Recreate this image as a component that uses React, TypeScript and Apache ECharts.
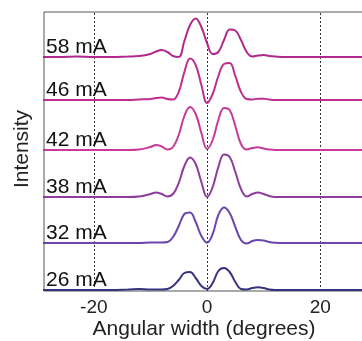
import React, { useEffect, useRef } from "react";
import * as echarts from "echarts";

const xs = [-29, -26, -23, -20, -17, -14, -12, -10, -9, -8, -7, -6, -5, -4, -3, -2, -1, 0, 1, 2, 3, 4, 5, 6, 7, 8, 9, 10, 11, 12, 14, 17, 20, 23, 26, 30];

const names = ["58 mA", "46 mA", "42 mA", "38 mA", "32 mA", "26 mA"];
const offsets = [234, 191, 141, 94, 48, 1];
const colors = ["#b0288c", "#bd2f91", "#c73a98", "#8e3c9e", "#6a45ad", "#36347c"];

const v58 = [0, 0, 0.5, 0, 0, 0.5, 1, 3, 5.5, 7, 5, 1, 0, 16, 32, 38.5, 30, 14, 3, 5, 17, 27.5, 26.5, 17, 5, 0.5, 1.5, 2, 1, 0.5, 0, 0, 0, 0, 0, 0];
const v46 = [0, 0, 0, 0, 0, 0, 0.5, 1, 2, 2.5, 1, 0.5, 8, 28, 41.5, 35, 15, -3, 6, 24, 36, 37, 24, 8, 1, 0.5, 1.3, 1.3, 0.5, 0, 0, 0, 0, 0, 0, 0];
const v42 = [0, 0, 0, 0, 0, 0, 0.5, 3, 5, 3.5, 0.5, 3, 15, 34, 43, 36, 17, 1, 10, 30, 42, 40, 24, 6, 0.5, 2, 2.7, 1.5, 0.5, 0, 0, 0, 0, 0, 0, 0];
const v38 = [0, 0, 0, 0, 0, 0, 0.5, 3, 4.5, 3, 0.5, 3, 14, 31, 39.5, 33, 15, 0, 10, 30, 42.5, 40, 25, 8, 0.5, 3, 4.5, 3, 1, 0, 0, 0, 0, 0, 0, 0];
const v32 = [0, 0, 0, 0, 0, 0, 0, 0.5, 0.5, 0.5, 1, 6, 17, 29, 30.5, 21, 7, 0.3, 9, 28, 35.5, 30, 16, 3, -0.5, 2, 3, 2.5, 1, 0.3, 0, 0, 0, 0, 0, 0];
const v26 = [0, 0, 0, 0, 0, 0.5, 1, 0.5, 0.5, 0.5, 1, 4, 10, 17, 18, 12, 4, 1, 7, 19, 22, 18, 8, 1, 0.5, 2, 2.7, 2, 0.5, 0, 0, 0, 0, 0, 0, 0];
const values = [v58, v46, v42, v38, v32, v26];

const xTicks = [-20, 0, 20];
const xMin = -28.8;
const xMax = 29.5;
const yMin = 0;
const yMax = 279;

const FONT = '"Liberation Sans", Arial, sans-serif';

export default function App() {
  const ref = useRef<HTMLDivElement>(null);
  useEffect(() => {
    const chart = echarts.init(ref.current!, null, { renderer: "svg" });
    const series: any[] = names.map((n, k) => ({
      type: "line",
      name: n,
      data: xs.map((x, i) => [x, offsets[k] + values[k][i]]),
      smooth: 0.4,
      symbol: "none",
      showSymbol: false,
      silent: true,
      lineStyle: { color: colors[k], width: 2 },
      z: 3,
    }));
    series[0].markLine = {
      symbol: "none",
      silent: true,
      label: { show: false },
      lineStyle: { color: "#333", type: [2, 2], width: 1 },
      data: xTicks.map((v) => ({ xAxis: v })),
      z: 1,
    };
    chart.setOption({
      animation: false,
      grid: {
        left: 44,
        top: 12,
        right: 6,
        bottom: 50,
        show: true,
        borderColor: "#555",
        borderWidth: 1,
        backgroundColor: "transparent",
      },
      xAxis: {
        type: "value",
        min: xMin,
        max: xMax,
        axisLine: { show: false },
        axisTick: { show: false },
        splitLine: { show: false },
        axisLabel: {
          customValues: xTicks,
          color: "#222",
          fontSize: 19,
          fontFamily: FONT,
          margin: 6,
        },
      },
      yAxis: {
        type: "value",
        min: yMin,
        max: yMax,
        axisLine: { show: false },
        axisTick: { show: false },
        axisLabel: { show: false },
        splitLine: { show: false },
      },
      series,
    });
    const labelGraphics = names.map((n, k) => {
      const p = chart.convertToPixel({ gridIndex: 0 }, [xMin, offsets[k]]) as number[];
      return {
        type: "text",
        x: 46,
        y: p[1] - 1,
        z: 10,
        style: { text: n, fontSize: 21, fontFamily: FONT, fill: "#111", align: "left", verticalAlign: "bottom" },
      };
    });
    chart.setOption({
      graphic: [
        ...labelGraphics,
        {
          type: "text",
          x: 20,
          y: 149,
          rotation: Math.PI / 2,
          style: { text: "Intensity", fontSize: 21, fontFamily: FONT, fill: "#222", align: "center", verticalAlign: "middle" },
        },
        {
          type: "text",
          x: 204,
          y: 327,
          style: { text: "Angular width (degrees)", fontSize: 21, fontFamily: FONT, fill: "#222", align: "center", verticalAlign: "middle" },
        },
      ],
    });
    return () => chart.dispose();
  }, []);
  return <div ref={ref} style={{ position: "fixed", left: 0, top: 0, width: 380, height: 341 }} />;
}
